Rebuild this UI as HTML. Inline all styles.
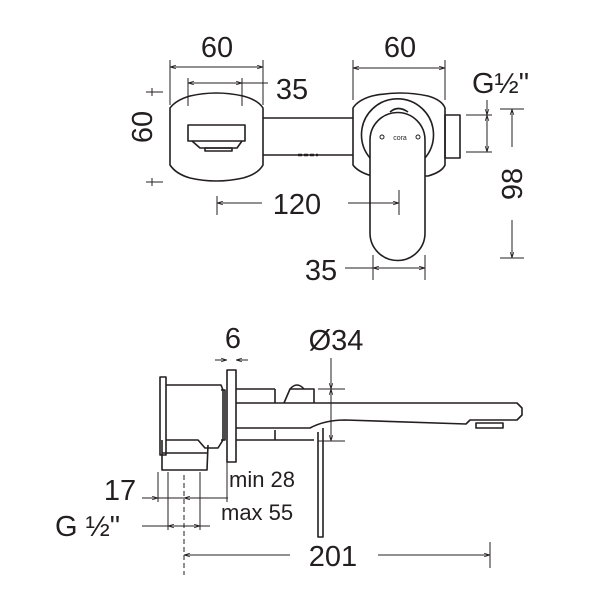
<!DOCTYPE html>
<html><head><meta charset="utf-8"><style>
html,body{margin:0;padding:0;background:#fff}
svg{display:block}
text{font-family:"Liberation Sans",Arial,sans-serif;fill:#231f20}
</style></head><body>
<svg width="600" height="600" viewBox="0 0 600 600" xmlns="http://www.w3.org/2000/svg">
<defs>
<marker id="a" viewBox="0 0 10 10" refX="10" refY="5" markerWidth="6" markerHeight="6" orient="auto-start-reverse"><path d="M0,2 L10,5 L0,8" fill="none" stroke="#231f20" stroke-width="1.2"/></marker>
</defs>
<g fill="none" stroke="#231f20" stroke-width="1.6" stroke-linejoin="round">
<path d="M170,108 Q176,100 190,96 Q216,90 243,96 Q258,100 263,108 L263,165 Q258,174 243,178 Q216,184 190,178 Q176,174 170,165 Z"/>
<rect x="188" y="125" width="57" height="16"/>
<path d="M192,141 L200,148 L237,148 L242,141"/>
<rect x="205" y="148" width="27" height="3"/>
<line x1="263" y1="118" x2="353" y2="118"/>
<line x1="263" y1="155" x2="353" y2="155"/>
<line x1="298" y1="155" x2="318" y2="155" stroke-width="2.5" stroke-dasharray="4 2"/>
<path d="M353,108 Q358,100 372,96 Q400,90 428,96 Q442,100 445,108 L445,165 Q442,172 428,176 L372,176 Q358,172 353,165 Z"/>
<rect x="445" y="115" width="15" height="43"/>
<path d="M370,158 A36,36 0 1 1 425,158"/>
<path d="M390,112 Q398,105 408,112"/>
<path d="M370,140 A27,27 0 0 1 425,140 L425,233 A27,27 0 0 1 370,233 Z" fill="#fff"/>
<circle cx="382" cy="137" r="2" stroke-width="1"/>
<circle cx="418" cy="137" r="2" stroke-width="1"/>
</g>
<text x="400" y="140" font-size="7" text-anchor="middle">cora</text>

<g fill="none" stroke="#231f20" stroke-width="1">
<line x1="170" y1="60" x2="170" y2="105"/><line x1="263" y1="60" x2="263" y2="105"/>
<line x1="170" y1="67" x2="263" y2="67" marker-start="url(#a)" marker-end="url(#a)"/>
<line x1="188" y1="78" x2="188" y2="106"/><line x1="242" y1="78" x2="242" y2="106"/>
<line x1="188" y1="83" x2="268" y2="83"/>
<line x1="188" y1="83" x2="242" y2="83" marker-start="url(#a)" marker-end="url(#a)"/>
<line x1="146" y1="92" x2="163" y2="92"/><line x1="146" y1="182" x2="163" y2="182"/>
<line x1="152" y1="88" x2="152" y2="96"/><line x1="152" y1="178" x2="152" y2="186"/>
<line x1="217" y1="196" x2="217" y2="215"/><line x1="217" y1="203" x2="262" y2="203" marker-start="url(#a)"/>
<line x1="348" y1="203" x2="399" y2="203" marker-end="url(#a)"/><line x1="399" y1="190" x2="399" y2="215"/>
<line x1="353" y1="60" x2="353" y2="100"/><line x1="445" y1="60" x2="445" y2="100"/>
<line x1="353" y1="68" x2="445" y2="68" marker-start="url(#a)" marker-end="url(#a)"/>
<line x1="466" y1="115" x2="492" y2="115"/><line x1="466" y1="152" x2="492" y2="152"/>
<line x1="487" y1="100" x2="487" y2="115" marker-end="url(#a)"/>
<line x1="487" y1="115" x2="487" y2="152" marker-start="url(#a)" marker-end="url(#a)"/>
<line x1="500" y1="109" x2="524" y2="109"/><line x1="500" y1="258" x2="524" y2="258"/>
<line x1="512" y1="147" x2="512" y2="109" marker-end="url(#a)"/>
<line x1="512" y1="220" x2="512" y2="258" marker-end="url(#a)"/>
<line x1="373" y1="255" x2="373" y2="280"/><line x1="425" y1="255" x2="425" y2="280"/>
<line x1="345" y1="268" x2="373" y2="268"/>
<line x1="373" y1="268" x2="425" y2="268" marker-start="url(#a)" marker-end="url(#a)"/>
</g>
<g font-size="29">
<text x="217" y="57" text-anchor="middle">60</text>
<text x="400" y="57" text-anchor="middle">60</text>
<text x="292" y="99" text-anchor="middle">35</text>
<text x="162" y="137" text-anchor="middle" transform="rotate(-90 152 137)">60</text>
<text x="0" y="0" text-anchor="middle" transform="translate(522 184) rotate(-90)">98</text>
<text x="297" y="214" text-anchor="middle">120</text>
<text x="321" y="280" text-anchor="middle">35</text>
<text x="472" y="93">G½"</text>
</g>

<g fill="none" stroke="#231f20" stroke-width="1.6" stroke-linejoin="round">
<rect x="160" y="377" width="6" height="78"/>
<path d="M166,385 L221,385 L223,390 L223,440 L218,448 L205,448 L198,440 L166,440"/>
<path d="M221,390 L225,390 L225,440 L221,440"/>
<path d="M162,440 L162,470 L207,470 L208,445"/>
<line x1="162" y1="453" x2="207" y2="453"/>
<rect x="227" y="370" width="9" height="92"/>
<line x1="236" y1="389" x2="275" y2="389"/><line x1="236" y1="440" x2="275" y2="440"/>
<path d="M275,389 L275,403 M284,403 L290,389 L314,389 L314,403"/>
<path d="M290,389 Q297,381 304,389"/>
<path d="M275,440 L275,430 M275,440 L314,440"/>
<path d="M236,403 L517,403 L522,408 L522,415 L517,420 L470,420 L466,424 L345,420 Q325,420 310,428 L236,428"/>
<path d="M318,432 L318,537 L323,537 L323,428"/>
<rect x="476" y="423" width="27" height="5"/>
</g>
<g fill="none" stroke="#231f20" stroke-width="1">
<line x1="215" y1="360" x2="227" y2="360" marker-end="url(#a)"/>
<line x1="248" y1="360" x2="236" y2="360" marker-end="url(#a)"/>
<line x1="318" y1="389" x2="345" y2="389"/><line x1="318" y1="441" x2="345" y2="441"/>
<line x1="331" y1="358" x2="331" y2="389" marker-end="url(#a)"/>
<line x1="331" y1="389" x2="331" y2="441" marker-start="url(#a)" marker-end="url(#a)"/>
<line x1="158" y1="472" x2="158" y2="502"/>
<line x1="168" y1="472" x2="168" y2="530"/>
<line x1="200" y1="472" x2="200" y2="530"/>
<line x1="227" y1="462" x2="227" y2="502"/>
<line x1="184" y1="475" x2="184" y2="575" stroke-dasharray="5 3"/>
<line x1="142" y1="498" x2="228" y2="498"/>
<line x1="150" y1="498" x2="158" y2="498" marker-end="url(#a)"/>
<line x1="192" y1="498" x2="184" y2="498" marker-end="url(#a)"/>
<line x1="142" y1="526" x2="210" y2="526"/>
<line x1="168" y1="526" x2="200" y2="526" marker-start="url(#a)" marker-end="url(#a)"/>
<line x1="184" y1="555" x2="290" y2="555" marker-start="url(#a)"/>
<line x1="378" y1="555" x2="490" y2="555" marker-end="url(#a)"/>
<line x1="490" y1="542" x2="490" y2="568"/>
</g>
<g font-size="29">
<text x="233" y="348" text-anchor="middle">6</text>
<text x="336" y="350" text-anchor="middle">Ø34</text>
<text x="120" y="500" text-anchor="middle">17</text>
<text x="55" y="536">G ½"</text>
<text x="333" y="566" text-anchor="middle">201</text>
</g>
<g font-size="22">
<text x="229" y="487">min 28</text>
<text x="221" y="520">max 55</text>
</g>
</svg>
</body></html>
